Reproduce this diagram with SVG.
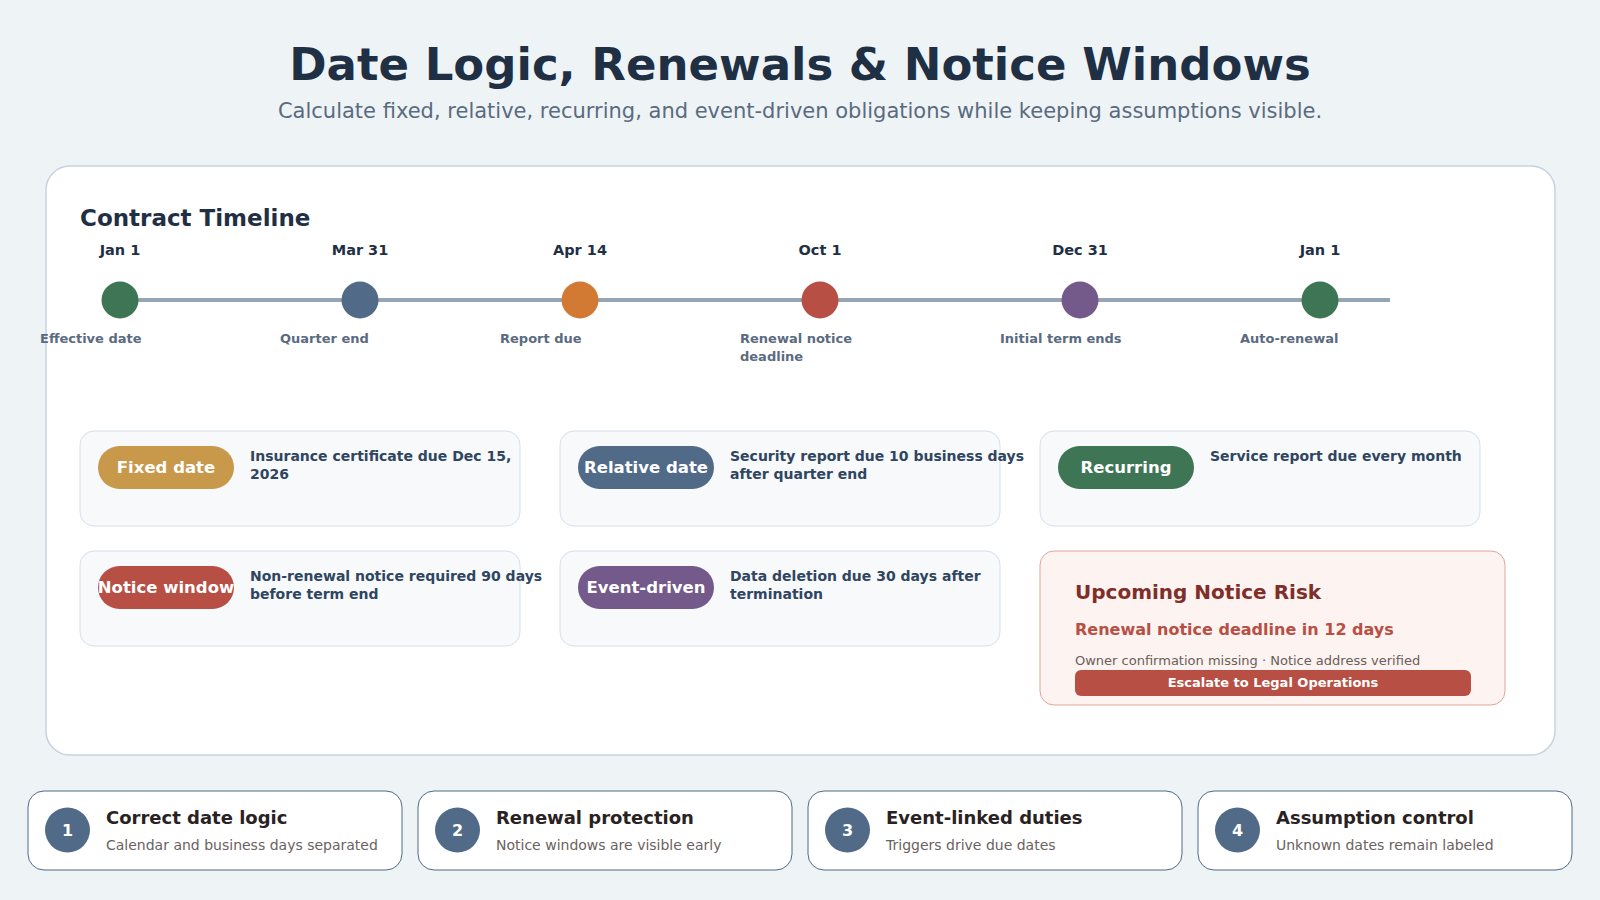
<svg xmlns="http://www.w3.org/2000/svg" width="1600" height="900" viewBox="0 0 1600 900">
<style>
text{font-family:"DejaVu Sans","Liberation Sans",sans-serif}
.date{font-size:14.5px;font-weight:bold;fill:#1f3044;text-anchor:middle}
.tl{font-size:13px;font-weight:bold;fill:#5a6b80}
.card{fill:#f7f9fb;stroke:#d5e0ea;stroke-width:1}
.pill{font-size:16.5px;font-weight:bold;fill:#ffffff;text-anchor:middle}
.desc{font-size:14px;font-weight:bold;fill:#2f4560}
.bcard{fill:#ffffff;stroke:#506a88;stroke-width:1}
.bnum{font-size:16px;font-weight:bold;fill:#ffffff;text-anchor:middle}
.btitle{font-size:18px;font-weight:bold;fill:#2a2222}
.bsub{font-size:14px;fill:#6b625e}
</style>
<rect width="1600" height="900" fill="#eef3f6"/>
<g id="header">
<text x="800" y="80" text-anchor="middle" font-size="45" font-weight="bold" fill="#1f3044">Date Logic, Renewals &amp; Notice Windows</text>
<text x="800" y="118" text-anchor="middle" font-size="21" fill="#5a6b80">Calculate fixed, relative, recurring, and event-driven obligations while keeping assumptions visible.</text>
</g>
<g id="panel">
<rect x="46" y="166" width="1509" height="589" rx="24" fill="#ffffff" stroke="#c5d3e0" stroke-width="1.5"/>
<text x="80" y="226" font-size="23" font-weight="bold" fill="#1f3044">Contract Timeline</text>
</g>
<g id="connectors">
<line x1="120" y1="300" x2="1390" y2="300" stroke="#94a6b5" stroke-width="4"/>
</g>
<g id="m1"><circle cx="120" cy="300" r="18.5" fill="#3e7555"/><text class="date" x="120" y="255">Jan 1</text><text class="tl" x="40" y="343">Effective date</text></g>
<g id="m2"><circle cx="360" cy="300" r="18.5" fill="#506a88"/><text class="date" x="360" y="255">Mar 31</text><text class="tl" x="280" y="343">Quarter end</text></g>
<g id="m3"><circle cx="580" cy="300" r="18.5" fill="#d27a34"/><text class="date" x="580" y="255">Apr 14</text><text class="tl" x="500" y="343">Report due</text></g>
<g id="m4"><circle cx="820" cy="300" r="18.5" fill="#b84f45"/><text class="date" x="820" y="255">Oct 1</text><text class="tl" x="740" y="343">Renewal notice</text><text class="tl" x="740" y="360.5">deadline</text></g>
<g id="m5"><circle cx="1080" cy="300" r="18.5" fill="#735a8a"/><text class="date" x="1080" y="255">Dec 31</text><text class="tl" x="1000" y="343">Initial term ends</text></g>
<g id="m6"><circle cx="1320" cy="300" r="18.5" fill="#3e7555"/><text class="date" x="1320" y="255">Jan 1</text><text class="tl" x="1240" y="343">Auto-renewal</text></g>

<g id="c-fixed"><rect class="card" x="80" y="431" width="440" height="95" rx="14"/><rect x="98" y="446" width="136" height="43" rx="21.5" fill="#c8994a"/><text class="pill" x="166" y="473">Fixed date</text><text class="desc" x="250" y="461">Insurance certificate due Dec 15,</text><text class="desc" x="250" y="479">2026</text></g>
<g id="c-relative"><rect class="card" x="560" y="431" width="440" height="95" rx="14"/><rect x="578" y="446" width="136" height="43" rx="21.5" fill="#506a88"/><text class="pill" x="646" y="473">Relative date</text><text class="desc" x="730" y="461">Security report due 10 business days</text><text class="desc" x="730" y="479">after quarter end</text></g>
<g id="c-recurring"><rect class="card" x="1040" y="431" width="440" height="95" rx="14"/><rect x="1058" y="446" width="136" height="43" rx="21.5" fill="#3e7555"/><text class="pill" x="1126" y="473">Recurring</text><text class="desc" x="1210" y="461">Service report due every month</text></g>
<g id="c-notice"><rect class="card" x="80" y="551" width="440" height="95" rx="14"/><rect x="98" y="566" width="136" height="43" rx="21.5" fill="#b84f45"/><text class="pill" x="166" y="593">Notice window</text><text class="desc" x="250" y="581">Non-renewal notice required 90 days</text><text class="desc" x="250" y="599">before term end</text></g>
<g id="c-event"><rect class="card" x="560" y="551" width="440" height="95" rx="14"/><rect x="578" y="566" width="136" height="43" rx="21.5" fill="#735a8a"/><text class="pill" x="646" y="593">Event-driven</text><text class="desc" x="730" y="581">Data deletion due 30 days after</text><text class="desc" x="730" y="599">termination</text></g>

<g id="risk">
<rect x="1040" y="551" width="465" height="154" rx="14" fill="#fdf3f0" stroke="#e0a59c" stroke-width="1"/>
<text x="1075" y="599" font-size="20" font-weight="bold" fill="#7f2e2a">Upcoming Notice Risk</text>
<text x="1075" y="635" font-size="16" font-weight="bold" fill="#b84f45">Renewal notice deadline in 12 days</text>
<text x="1075" y="664.5" font-size="13" fill="#6b5d5a">Owner confirmation missing · Notice address verified</text>
<rect x="1075" y="670" width="396" height="26" rx="6" fill="#b84f45"/>
<text x="1273" y="686.5" text-anchor="middle" font-size="13" font-weight="bold" fill="#ffffff">Escalate to Legal Operations</text>
</g>

<g id="b1"><rect class="bcard" x="28" y="791" width="374" height="79" rx="16"/><circle cx="67.5" cy="830" r="22.5" fill="#506a88"/><text class="bnum" x="67.5" y="836">1</text><text class="btitle" x="106" y="824">Correct date logic</text><text class="bsub" x="106" y="850">Calendar and business days separated</text></g>
<g id="b2"><rect class="bcard" x="418" y="791" width="374" height="79" rx="16"/><circle cx="457.5" cy="830" r="22.5" fill="#506a88"/><text class="bnum" x="457.5" y="836">2</text><text class="btitle" x="496" y="824">Renewal protection</text><text class="bsub" x="496" y="850">Notice windows are visible early</text></g>
<g id="b3"><rect class="bcard" x="808" y="791" width="374" height="79" rx="16"/><circle cx="847.5" cy="830" r="22.5" fill="#506a88"/><text class="bnum" x="847.5" y="836">3</text><text class="btitle" x="886" y="824">Event-linked duties</text><text class="bsub" x="886" y="850">Triggers drive due dates</text></g>
<g id="b4"><rect class="bcard" x="1198" y="791" width="374" height="79" rx="16"/><circle cx="1237.5" cy="830" r="22.5" fill="#506a88"/><text class="bnum" x="1237.5" y="836">4</text><text class="btitle" x="1276" y="824">Assumption control</text><text class="bsub" x="1276" y="850">Unknown dates remain labeled</text></g>
</svg>
